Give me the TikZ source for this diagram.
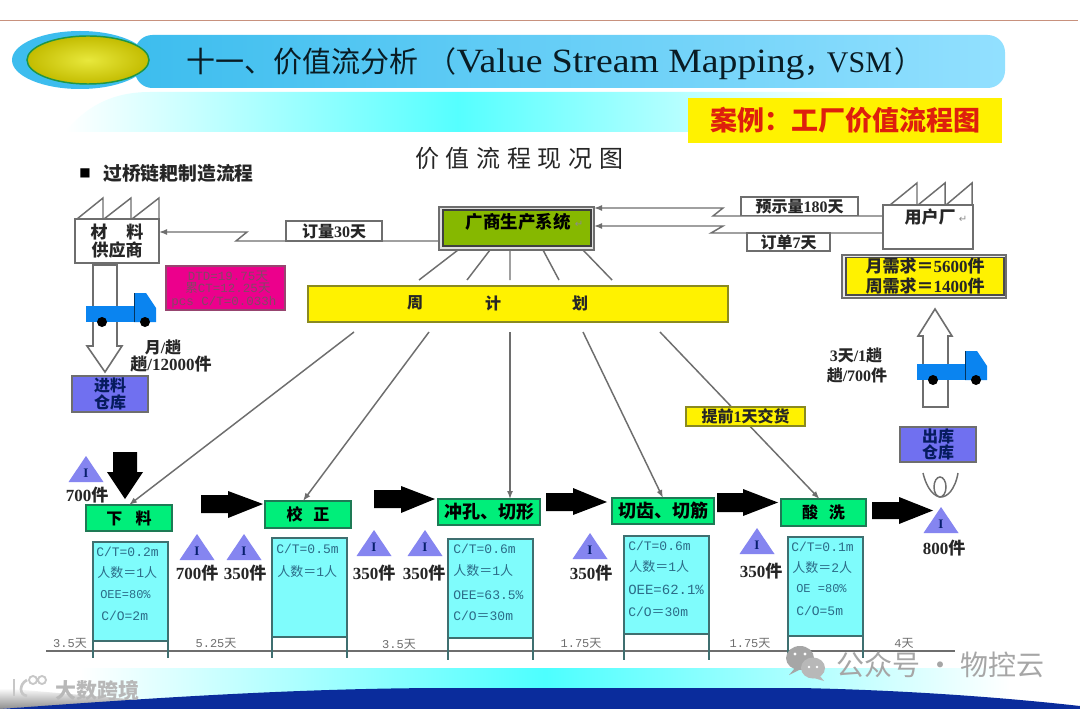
\documentclass[tikz,border=0pt]{standalone}
\usepackage{fontspec}
\usetikzlibrary{arrows.meta,calc}
\setmainfont{Liberation Serif}
\newfontfamily\cjk{Noto Sans CJK SC}
\newfontfamily\dmono{Liberation Mono}
\newfontfamily\ddj{DejaVu Sans}
\newfontfamily\ttl[FakeStretch=1.11]{Liberation Serif}
\newcommand\C[1]{{\cjk #1}}
\newcommand\fs[2][1.1]{\fontsize{\fpeval{#2*.75}pt}{\fpeval{#2*.75*#1}pt}\selectfont}
\newcommand\Ct[1]{{\cjk\fs{29}#1}}
\definecolor{barL}{HTML}{3DBDEE}
\definecolor{barR}{HTML}{92E0FF}
\definecolor{band}{HTML}{55FFFF}
\definecolor{linegray}{HTML}{6E6E6E}
\definecolor{procgreen}{HTML}{00EE7A}
\definecolor{procedge}{HTML}{1E7A55}
\definecolor{datacyan}{HTML}{7FFCFC}
\definecolor{dataedge}{HTML}{3F6F70}
\definecolor{datatext}{HTML}{2C6C88}
\definecolor{tri}{HTML}{8585F0}
\definecolor{wh}{HTML}{7070F0}
\definecolor{truck}{HTML}{0A84F0}
\definecolor{sysg}{HTML}{86B800}
\definecolor{yedge}{HTML}{8A8A20}
\definecolor{navy}{HTML}{0A2C9C}
\definecolor{ink}{HTML}{262626}
\definecolor{wm}{HTML}{A6A6A6}
\tikzset{
  rect/.style={rectangle,inner sep=0pt,outer sep=0pt,align=center},
  conn/.style={draw=linegray,line width=1.1pt},
  tipped/.style={conn,-{Latex[length=6pt,width=4.5pt]}},
  hollow/.style={draw=linegray,fill=white,line width=1.2pt,line join=miter},
  proc/.style={rect,draw=procedge,fill=procgreen,line width=1.1pt,text=black,font=\bfseries\cjk\fs{16}},
  databox/.style={rect,draw=dataedge,fill=datacyan,line width=1.1pt},
  dtext/.style={inner sep=0pt,anchor=west,text=datatext,font=\dmono\fs{13}},
  lab/.style={inner sep=0pt,text=ink,font=\bfseries\fs{17}},
  days/.style={inner sep=0pt,text=linegray,font=\dmono\fs{12}},
  tag/.style={rect,draw=linegray,fill=white,line width=1.1pt,text=ink,font=\bfseries\fs{16}},
  whbox/.style={rect,draw=linegray,fill=wh,line width=1.1pt,text=navy!60!black,font={\bfseries\cjk\fs[0.85]{16}}},
}
\newcommand\rb[7][]{\node[rect,minimum width={(#5-#3)*.75pt},minimum height={(#6-#4)*.75pt},#1] (#2) at ({(#3+#5)/2},{(#4+#6)/2}) {#7};}
\newcommand\lb[5][]{\node[inner sep=0pt,#1] (#2) at (#3,#4) {#5};}
% triangle: name, apex x, apex y
\newcommand\tria[3]{%
  \fill[tri] (#2,#3) -- (#2+17.5,#3+26) -- (#2-17.5,#3+26) -- cycle;
  \node[inner sep=0pt,text=navy!70!black,font=\bfseries\fs{13}] (#1) at (#2,#3+17) {I};}
% horizontal block arrow: x0 xneck xtip ytop ybot headtop headbot
\newcommand\barrow[7]{\fill[black] (#1,#4) -- (#2,#4) -- (#2,#6) -- (#3,{(#4+#5)/2}) -- (#2,#7) -- (#2,#5) -- (#1,#5) -- cycle;}
\newcommand\truckshape[3]{%
  \fill[truck] (#1,#2) rectangle (#1+48,#2+16);
  \fill[truck] (#1+48,#2+16) -- (#1+48,#2-13) -- (#1+60,#2-13) -- (#1+70,#2+2) -- (#1+70,#2+16) -- cycle;
  \draw[black!60!truck,line width=.7pt] (#1+48,#2+16) -- (#1+48,#2-13);
  \fill[black] (#1+16,#2+16) circle [radius=5];
  \fill[black] (#1+59,#2+16) circle [radius=5];}
\begin{document}
\begin{tikzpicture}[x=.75pt,y=-.75pt]
\useasboundingbox (0,0) rectangle (1080,709);
\fill[white] (0,0) rectangle (1080,709);
% top rule
\draw[draw={rgb,255:red,200;green,145;blue,125},line width=.9pt] (0,20.5) -- (1078,20.5);
% header
\shade[left color=barL,right color=barR,rounded corners=13pt] (135,35) rectangle (1005,88);
\fill[barL] (80,60) ellipse [x radius=68,y radius=29];
\shadedraw[inner color={rgb,255:red,232;green,232;blue,60},outer color={rgb,255:red,195;green,188;blue,0},draw={rgb,255:red,30;green,150;blue,70},line width=1.1pt] (88,60) ellipse [x radius=61,y radius=24];
\shade[left color=white,right color=white,middle color=band] (65,132) .. controls (85,108) and (110,92) .. (150,92) -- (850,92) -- (850,132) -- cycle;
\lb[anchor=west,text=black!85!barL,font=\ttl\fs{34}]{title}{186}{64}{\Ct{十一、价值流分析\kern7pt（}Value Stream Mapping\Ct{，\kern-5pt}{\rmfamily\fs{30}VSM}\Ct{\kern2pt）}}
\rb[fill=yellow]{casebox}{688}{98}{1002}{143}{\bfseries\cjk\fs{27}\textcolor[rgb]{.87,.12,.05}{案例：工厂价值流程图}}
\lb[anchor=west,text=ink,font=\cjk\fs{24}]{subtitle}{415}{158}{价\kern5pt值\kern5pt流\kern5pt程\kern5pt现\kern5pt况\kern5pt图}
\lb[anchor=west,font=\ddj\fs{12}]{bullet}{79}{173}{■}
\lb[anchor=west,text=ink,font=\bfseries\cjk\fs{18.8}]{flowname}{103}{173}{过桥链耙制造流程}
% bottom bands
\shade[left color=white,right color=white,middle color=band!90!cyan] (80,668) -- (1010,668) -- (1010,702) -- (80,702) -- cycle;
\shade[top color=white,bottom color=black!45] (0,688) -- (140,700) -- (0,709) -- cycle;
\fill[navy] (0,709) .. controls (150,698) and (300,688) .. (450,688) -- (800,688) .. controls (900,690) and (1000,697) .. (1080,706) -- (1080,709) -- cycle;
% supplier factory
\draw[conn] (77,219) -- (103,198) -- (103,219) (104,219) -- (131,198) -- (131,219) (132,219) -- (159,198) -- (159,219);
\rb[tag,font={\bfseries\cjk\fs[0.85]{17}}]{sup}{75}{219}{159}{263}{材\kern14pt料\\供应商}
% customer factory
\draw[conn] (890,205) -- (917,183) -- (917,205) (918,205) -- (945,183) -- (945,205) (946,205) -- (972,183) -- (972,205);
\rb[tag,font=\bfseries\cjk\fs{16}]{cust}{883}{205}{973}{249}{}
\lb[text=ink,font=\bfseries\cjk\fs{17}]{custtxt}{930}{217}{用户厂}
\lb[text=black!45,font=\ddj\fs{10}]{custret}{963}{219}{↵}
% system box
\rb[draw=linegray,fill=black!12,line width=1.1pt]{sysout}{439}{207}{594}{250}{}
\rb[draw=black!75,fill=sysg,line width=1.1pt]{sys}{443}{210}{591}{246}{}
\lb[text=black,font=\bfseries\cjk\fs{17.5}]{systxt}{518}{222}{广商生产系统}
\lb[text=black!45,font=\ddj\fs{10}]{sysret}{579}{224}{↵}
% order connectors
\coordinate (oa) at (236,241);\coordinate (ob) at (247,232);
\draw[tipped] (sysout.west |- oa) -- (oa) -- (ob) -- (sup.east |- ob);
\rb[tag]{ordq}{286}{221}{382}{241}{\C{订量}30\C{天}}
\coordinate (ca) at (713,216);\coordinate (cb) at (723,208);
\draw[tipped] (cust.west |- ca) -- (ca) -- (cb) -- (sysout.east |- cb);
\coordinate (cc) at (711,233);\coordinate (cd) at (723,226);
\draw[tipped] (cust.west |- cc) -- (cc) -- (cd) -- (sysout.east |- cd);
\rb[tag]{fc}{741}{197}{858}{215.5}{\C{预示量}180\C{天}}
\rb[tag]{dayo}{747}{233}{830}{251}{\C{订单}7\C{天}}
% demand box
\rb[draw=linegray,fill=black!8,line width=1pt]{demout}{842}{255}{1006}{298}{}
\rb[draw=black!70,fill=yellow,line width=.9pt,font={\bfseries\fs[1.18]{17}},text=ink]{dem}{846}{257.5}{1004}{295}{\C{月需求＝}5600\C{件}\\\C{周需求＝}1400\C{件}}
% weekly plan
\rb[draw=yedge,fill=yellow,line width=1.1pt]{plan}{308}{286}{728}{322}{}
\lb[text=ink,font=\bfseries\cjk\fs{16}]{pa}{415}{303}{周}
\lb[text=ink,font=\bfseries\cjk\fs{16}]{pb}{493}{303}{计}
\lb[text=ink,font=\bfseries\cjk\fs{16}]{pc}{580}{303}{划}
% fan lines
\coordinate (fa) at (419,280);\coordinate (fb) at (467,280);\coordinate (fc1) at (510,280);\coordinate (fd) at (559,280);\coordinate (fe) at (612,280);
\coordinate (sa) at (458,250);\coordinate (sb) at (490,250);\coordinate (sc) at (510,250);\coordinate (sd) at (543,250);\coordinate (se) at (583,250);
\draw[conn] (sa) -- (fa) (sb) -- (fb) (sc) -- (fc1) (sd) -- (fd) (se) -- (fe);
% processes
\rb[proc]{p1}{86}{505}{172}{531}{下\kern10pt料}
\rb[proc]{p2}{265}{501}{351}{528}{校\kern8pt正}
\rb[proc,font=\bfseries\cjk\fs{18}]{p3}{438}{499}{540}{525}{冲孔、切形}
\rb[proc,font=\bfseries\cjk\fs{18}]{p4}{612}{498}{714}{524}{切齿、切筋}
\rb[proc]{p5}{781}{499}{866}{526}{酸\kern8pt洗}
% plan to process
\coordinate (da) at (354,332);\coordinate (db) at (429,332);\coordinate (dc) at (510,332);\coordinate (dd) at (583,332);\coordinate (de) at (660,332);
\draw[tipped] (da) -- (p1.north);
\draw[tipped] (db) -- ($(p2.north)+(-5,0)$);
\draw[tipped] (dc) -- ($(p3.north)+(21,0)$);
\draw[tipped] (dd) -- (p4.north);
\draw[tipped] (de) -- ($(p5.north)+(-4,0)$);
\rb[draw=yedge,fill=yellow,line width=1.1pt,text=ink,font=\bfseries\fs{16}]{early}{686}{407}{805}{426}{\C{提前}1\C{天交货}}
% timeline
\coordinate (tl) at (46,651);\coordinate (tr) at (955,651);
\draw[conn] (tl) -- (tr);
% data boxes
\rb[databox]{d1}{93}{542}{168}{641}{}
\rb[databox]{d2}{272}{538}{347}{637}{}
\rb[databox]{d3}{448}{539}{533}{638}{}
\rb[databox]{d4}{624}{536}{709}{634}{}
\rb[databox]{d5}{788}{537}{863}{636}{}
\draw[draw=dataedge,line width=1.1pt] (d1.south west) -- ++(0,17) (d1.south east) -- ++(0,17)
 (d2.south west) -- ++(0,21) (d2.south east) -- ++(0,21)
 (d3.south west) -- ++(0,22) (d3.south east) -- ++(0,22)
 (d4.south west) -- ++(0,26) (d4.south east) -- ++(0,26)
 (d5.south west) -- ++(0,22) (d5.south east) -- ++(0,22);
% data texts
\lb[dtext]{a1}{96}{552}{C/T=0.2m}
\lb[dtext]{a2}{97}{573}{\C{人数＝}1\C{人}}
\lb[dtext,font=\dmono\fs{12}]{a3}{100}{595}{OEE=80\%}
\lb[dtext]{a4}{101}{616}{C/O=2m}
\lb[dtext]{b1}{276}{549}{C/T=0.5m}
\lb[dtext]{b2}{277}{572}{\C{人数＝}1\C{人}}
\lb[dtext]{c1}{453}{549}{C/T=0.6m}
\lb[dtext]{c2}{453}{571}{\C{人数＝}1\C{人}}
\lb[dtext]{c3}{453}{595}{OEE=63.5\%}
\lb[dtext]{c4}{453}{616}{C/O\C{＝}30m}
\lb[dtext]{e1}{628}{546}{C/T=0.6m}
\lb[dtext]{e2}{629}{567}{\C{人数＝}1\C{人}}
\lb[dtext,font=\dmono\fs{14}]{e3}{628}{590}{OEE=62.1\%}
\lb[dtext]{e4}{628}{612}{C/O\C{＝}30m}
\lb[dtext]{f1}{791}{547}{C/T=0.1m}
\lb[dtext]{f2}{792}{568}{\C{人数＝}2\C{人}}
\lb[dtext,font=\dmono\fs{12}]{f3}{796}{589}{OE =80\%}
\lb[dtext]{f4}{796}{611}{C/O=5m}
% day labels
\lb[days]{t1}{70}{643}{3.5\C{天}}
\lb[days]{t2}{216}{643}{5.25\C{天}}
\lb[days]{t3}{399}{644}{3.5\C{天}}
\lb[days]{t4}{581}{643}{1.75\C{天}}
\lb[days]{t5}{750}{643}{1.75\C{天}}
\lb[days]{t6}{904}{643}{4\C{天}}
% triangles
\tria{i1}{86}{456}\tria{i2}{197}{534}\tria{i3}{244}{534}\tria{i4}{374}{530}\tria{i5}{425}{530}\tria{i6}{590}{533}\tria{i7}{757}{528}\tria{i8}{941}{507}
\lb[lab]{n1}{87}{495}{700\C{件}}
\lb[lab]{n2}{197}{573}{700\C{件}}
\lb[lab]{n3}{245}{573}{350\C{件}}
\lb[lab]{n4}{374}{573}{350\C{件}}
\lb[lab]{n5}{424}{573}{350\C{件}}
\lb[lab]{n6}{591}{573}{350\C{件}}
\lb[lab]{n7}{761}{571}{350\C{件}}
\lb[lab]{n8}{944}{548}{800\C{件}}
% block arrows
\fill[black] (113,452) -- (137,452) -- (137,472) -- (143,472) -- (125,499) -- (107,472) -- (113,472) -- cycle;
\barrow{201}{228}{263}{495}{513}{491}{518}
\barrow{374}{401}{435}{490}{508}{486}{513}
\barrow{546}{573}{607}{493}{511}{488}{515}
\barrow{717}{743}{778}{493}{512}{489}{516}
\barrow{872}{899}{933}{502}{519}{497}{524}
% left delivery
\draw[hollow] (93,265) -- (117,265) -- (117,346) -- (122,346) -- (105,372) -- (87,346) -- (93,346) -- cycle;
\truckshape{86}{306}{}
\rb[draw=black!45!magenta,fill=magenta,line width=1.1pt]{info}{166}{266}{285}{310}{}
\lb[text=black!55!magenta,font=\dmono\fs{12.5}]{ia}{228}{276}{DTD=19.75\C{天}}
\lb[text=black!55!magenta,font=\dmono\fs{12.5}]{ib}{228}{288}{\C{累}CT=12.25\C{天}}
\lb[text=black!55!magenta,font=\dmono\fs{12.5}]{ic}{224}{302}{pcs C/T=0.033h}
\lb[lab,font=\bfseries\fs{16}]{mt}{163}{347}{\C{月}/\C{趟}}
\lb[lab,font=\bfseries\fs{17}]{mq}{171}{364}{\C{趟}/12000\C{件}}
\rb[whbox]{wh1}{72}{376}{148}{412}{进料\\仓库}
% right delivery
\draw[hollow] (923,407) -- (948,407) -- (948,336) -- (952,336) -- (935,309) -- (918,336) -- (923,336) -- cycle;
\truckshape{917}{364}{}
\lb[lab,font=\bfseries\fs{16}]{rt}{856}{355}{3\C{天}/1\C{趟}}
\lb[lab,font=\bfseries\fs{16}]{rq}{857}{375}{\C{趟}/700\C{件}}
\rb[whbox]{wh2}{900}{427}{976}{462}{出库\\仓库}
% kanban loop
\draw[conn] (923,473) .. controls (927,490) and (935,497) .. (941,497) .. controls (947,497) and (955,490) .. (958,473);
\draw[conn] (940,487) ellipse [x radius=6,y radius=10];
% watermarks
\draw[black!22,line width=2pt] (14,679) -- (14,696);
\draw[black!22,line width=2pt] (27,680) .. controls (19,684) and (19,695) .. (27,696);
\draw[black!22,line width=1.4pt] (33,680) circle [radius=4] (42,680) circle [radius=4];
\lb[text=black!28,font=\bfseries\cjk\fs{21}]{wmark}{97}{690}{大数跨境}
\fill[wm] (800,658) ellipse [x radius=14,y radius=12];
\fill[wm] (795,668) -- (789,675) -- (801,669) -- cycle;
\fill[wm!80] (813,668) ellipse [x radius=12,y radius=10.5];
\fill[wm!80] (820,676) -- (824,681) -- (814,678) -- cycle;
\fill[white] (795,654) circle [radius=1.7] (805,654) circle [radius=1.7] (809,667) circle [radius=1.4] (817,667) circle [radius=1.4];
\lb[anchor=west,text=wm,font=\cjk\fs{28}]{wtext}{836}{665}{公众号 · 物控云}
\end{tikzpicture}
\end{document}
